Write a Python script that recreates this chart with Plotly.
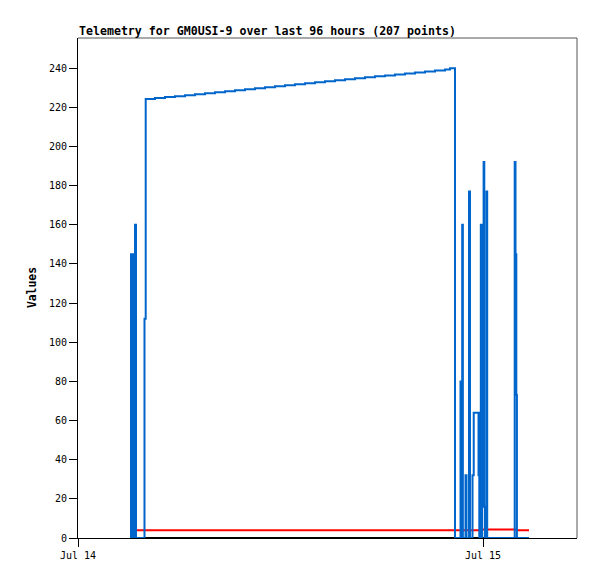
import pandas as pd
import plotly.graph_objects as go

base = pd.Timestamp("2024-07-14 00:00")

# Blue series: minutes after Jul 14 00:00, values
blue_min = [186.7, 188.4, 192.0, 194.5, 197.3, 199.8, 202.7, 206.2, 236.4, 240.7,
            273.8, 309.3, 344.9, 380.4, 416.0, 451.6, 487.1, 522.7, 558.2,
            593.8, 629.3, 664.9, 700.4, 736.0, 771.6, 807.1, 842.7, 878.2,
            913.8, 949.3, 984.9, 1020.4, 1056.0, 1091.6, 1127.1, 1162.7,
            1198.2, 1233.8, 1269.3, 1304.9, 1322.7,
            1340.4, 1360.0, 1363.6, 1366.0, 1368.4, 1377.8, 1381.3, 1390.2,
            1393.8, 1402.7, 1407.0, 1424.0, 1426.8, 1429.3, 1432.2, 1434.7,
            1437.2, 1440.0, 1442.1, 1444.6, 1447.1, 1449.6, 1452.4, 1454.9,
            1552.7, 1555.6, 1558.4, 1560.6, 1603.6]
blue_val = [0, 145, 0, 145, 0, 145, 160, 0, 112, 224.2,
            224.7, 225.2, 225.7, 226.2, 226.7, 227.2, 227.7, 228.2, 228.7,
            229.2, 229.7, 230.2, 230.8, 231.3, 231.8, 232.3, 232.8, 233.3,
            233.8, 234.3, 234.8, 235.3, 235.8, 236.3, 236.8, 237.3,
            237.8, 238.3, 238.8, 239.3, 240.0,
            0, 80, 0, 160, 0, 32, 0, 177,
            0, 32, 64, 32, 0, 64, 160, 0,
            160, 16, 192, 16, 0, 16, 177, 0,
            192, 145, 73, 0, 0]

red_min = [208.0, 1432.9, 1555.6, 1603.6]
red_val = [3.9, 4.4, 3.9, 3.9]

black_min = [188.4, 1603.6]
black_val = [0, 0]

x_range_min = [0, 1774.2]
tick_min = [0, 1440]
tick_text = ["Jul 14", "Jul 15"]
y_ticks = list(range(0, 241, 20))


def to_dt(mins):
    return [base + pd.Timedelta(minutes=m) for m in mins]


fig = go.Figure()
fig.add_trace(go.Scatter(x=to_dt(black_min), y=black_val, mode="lines",
                         line=dict(color="#000000", width=2, shape="hv"),
                         hoverinfo="skip"))
fig.add_trace(go.Scatter(x=to_dt(red_min), y=red_val, mode="lines",
                         line=dict(color="#ff0000", width=2, shape="hv")))
fig.add_trace(go.Scatter(x=to_dt(blue_min), y=blue_val, mode="lines",
                         line=dict(color="#0066cc", width=2, shape="hv")))

mono = "DejaVu Sans Mono"
fig.update_layout(
    width=597, height=579,
    margin=dict(l=78, r=20, t=38, b=41),
    paper_bgcolor="white", plot_bgcolor="white",
    showlegend=False,
    font=dict(family=mono, size=10, color="#000000"),
    xaxis=dict(type="date", range=to_dt(x_range_min), tickvals=to_dt(tick_min),
               ticktext=tick_text, ticks="outside", ticklen=8, tickcolor="#000",
               showline=True, linecolor="#000", linewidth=1, showgrid=False,
               zeroline=False, tickfont=dict(family=mono, size=10)),
    yaxis=dict(range=[0, 255.4], tickvals=y_ticks, ticks="outside", ticklen=8,
               tickcolor="#000", showline=True, linecolor="#000", linewidth=1,
               showgrid=False, zeroline=False, tickfont=dict(family=mono, size=10)),
    shapes=[
        dict(type="line", xref="paper", yref="paper", x0=0, x1=1, y0=1, y1=1,
             line=dict(color="#555555", width=1)),
        dict(type="line", xref="paper", yref="paper", x0=1, x1=1, y0=0, y1=1,
             line=dict(color="#555555", width=1)),
    ],
    annotations=[
        dict(text="<b>Telemetry for GM0USI-9 over last 96 hours (207 points)</b>",
             xref="paper", yref="paper", x=-0.002, y=1.014, xanchor="left",
             yanchor="middle", showarrow=False,
             font=dict(family=mono, size=11.6, color="#000")),
        dict(text="<b>Values</b>", xref="paper", yref="paper", x=-0.092, y=0.5,
             xanchor="center", yanchor="middle", textangle=-90, showarrow=False,
             font=dict(family=mono, size=11.4, color="#000")),
    ],
)

fig.write_html("out.html", config={"displayModeBar": False},
               post_script="document.body.style.margin='0';document.body.style.padding='0';")
